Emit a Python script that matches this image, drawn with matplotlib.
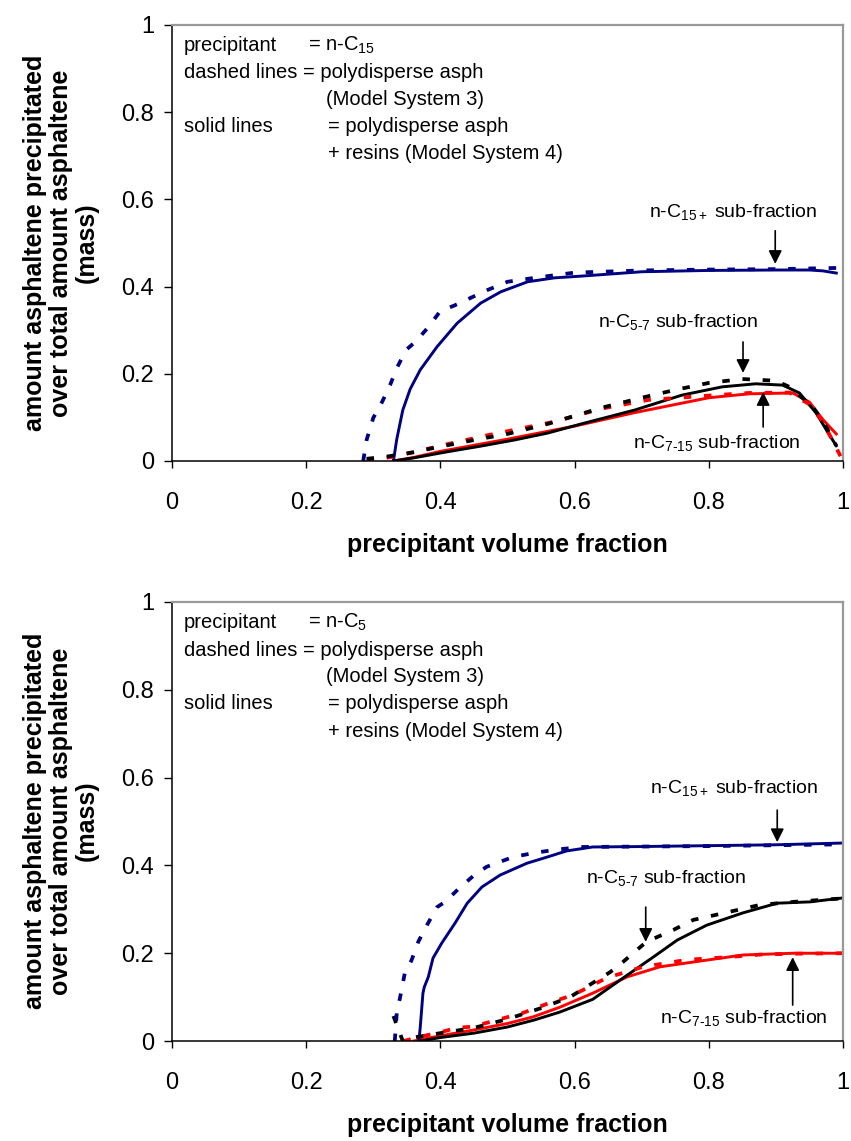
import matplotlib.pyplot as plt

plt.rcParams['font.family'] = ['Liberation Sans', 'DejaVu Sans']
plt.rcParams['mathtext.fontset'] = 'custom'
plt.rcParams['mathtext.rm'] = 'Liberation Sans'
plt.rcParams['mathtext.it'] = 'Liberation Sans:italic'
plt.rcParams['mathtext.bf'] = 'Liberation Sans:bold'

# ---- data: top panel (precipitant n-C15) ----
t_c15_ms3_x = [0.285, 0.29, 0.30, 0.313, 0.325, 0.335, 0.349, 0.364, 0.382, 0.40, 0.42, 0.445, 0.47, 0.50, 0.54, 0.60, 0.70, 0.80, 0.90, 1.0]
t_c15_ms3_y = [0.0, 0.048, 0.099, 0.135, 0.174, 0.213, 0.255, 0.275, 0.307, 0.344, 0.356, 0.374, 0.392, 0.411, 0.420, 0.432, 0.437, 0.439, 0.440, 0.443]
t_c15_ms4_x = [0.330, 0.335, 0.344, 0.355, 0.370, 0.395, 0.425, 0.46, 0.49, 0.53, 0.57, 0.61, 0.70, 0.80, 0.90, 0.95, 0.97, 0.99]
t_c15_ms4_y = [0.0, 0.05, 0.117, 0.165, 0.209, 0.262, 0.316, 0.362, 0.388, 0.411, 0.420, 0.424, 0.434, 0.437, 0.438, 0.438, 0.436, 0.431]
t_c57_ms3_x = [0.29, 0.32, 0.36, 0.40, 0.45, 0.50, 0.56, 0.64, 0.70, 0.75, 0.80, 0.85, 0.90, 0.92, 0.955, 0.975, 0.99]
t_c57_ms3_y = [0.005, 0.01, 0.02, 0.033, 0.048, 0.062, 0.085, 0.122, 0.145, 0.163, 0.179, 0.188, 0.184, 0.170, 0.124, 0.078, 0.035]
t_c57_ms4_x = [0.33, 0.36, 0.41, 0.46, 0.51, 0.56, 0.61, 0.69, 0.76, 0.82, 0.87, 0.91, 0.935, 0.96, 0.978, 0.99]
t_c57_ms4_y = [0.0, 0.007, 0.021, 0.034, 0.048, 0.064, 0.085, 0.117, 0.151, 0.170, 0.177, 0.174, 0.156, 0.110, 0.064, 0.035]
t_c715_ms3_x = [0.29, 0.33, 0.36, 0.40, 0.47, 0.57, 0.64, 0.71, 0.80, 0.86, 0.92, 0.95, 0.97, 0.99, 1.0]
t_c715_ms3_y = [0.0, 0.01, 0.02, 0.035, 0.059, 0.090, 0.12, 0.140, 0.150, 0.156, 0.157, 0.13, 0.09, 0.03, 0.0]
t_c715_ms4_x = [0.33, 0.36, 0.40, 0.50, 0.56, 0.60, 0.69, 0.80, 0.86, 0.925, 0.95, 0.97, 0.99]
t_c715_ms4_y = [0.0, 0.008, 0.022, 0.050, 0.068, 0.080, 0.111, 0.145, 0.154, 0.156, 0.135, 0.095, 0.062]

# ---- data: bottom panel (precipitant n-C5) ----
b_c15_ms3_x = [0.332, 0.333, 0.335, 0.340, 0.347, 0.357, 0.367, 0.380, 0.395, 0.407, 0.428, 0.449, 0.469, 0.508, 0.538, 0.568, 0.608, 0.70, 0.80, 0.90, 1.0]
b_c15_ms3_y = [0.0, 0.02, 0.064, 0.100, 0.155, 0.184, 0.226, 0.264, 0.305, 0.317, 0.348, 0.376, 0.397, 0.419, 0.428, 0.435, 0.442, 0.443, 0.444, 0.446, 0.448]
b_c15_ms4_x = [0.368, 0.370, 0.374, 0.376, 0.382, 0.389, 0.402, 0.422, 0.440, 0.462, 0.489, 0.529, 0.559, 0.588, 0.627, 0.70, 0.80, 0.90, 1.0]
b_c15_ms4_y = [0.0, 0.032, 0.109, 0.123, 0.146, 0.189, 0.223, 0.269, 0.314, 0.351, 0.378, 0.405, 0.419, 0.433, 0.442, 0.443, 0.445, 0.447, 0.451]
b_c57_ms3_x = [0.330, 0.344, 0.36, 0.40, 0.45, 0.50, 0.55, 0.593, 0.653, 0.672, 0.707, 0.747, 0.777, 0.821, 0.876, 0.926, 1.0]
b_c57_ms3_y = [0.057, 0.0, 0.008, 0.018, 0.030, 0.050, 0.075, 0.100, 0.157, 0.180, 0.226, 0.253, 0.276, 0.291, 0.310, 0.317, 0.325]
b_c57_ms4_x = [0.37, 0.40, 0.45, 0.50, 0.54, 0.578, 0.627, 0.668, 0.717, 0.753, 0.797, 0.851, 0.902, 0.951, 1.0]
b_c57_ms4_y = [0.0, 0.008, 0.018, 0.032, 0.048, 0.066, 0.095, 0.139, 0.191, 0.230, 0.264, 0.292, 0.314, 0.317, 0.326]
b_c715_ms3_x = [0.345, 0.37, 0.40, 0.424, 0.449, 0.494, 0.523, 0.568, 0.598, 0.648, 0.702, 0.767, 0.827, 0.877, 0.93, 1.0]
b_c715_ms3_y = [0.0, 0.01, 0.02, 0.03, 0.033, 0.052, 0.064, 0.090, 0.105, 0.144, 0.169, 0.185, 0.191, 0.197, 0.199, 0.200]
b_c715_ms4_x = [0.36, 0.40, 0.449, 0.50, 0.538, 0.578, 0.627, 0.678, 0.727, 0.777, 0.851, 0.926, 1.0]
b_c715_ms4_y = [0.0, 0.012, 0.025, 0.040, 0.055, 0.077, 0.109, 0.146, 0.169, 0.180, 0.196, 0.200, 0.200]

ticks = [0, 0.2, 0.4, 0.6, 0.8, 1.0]
tick_labels = ['0', '0.2', '0.4', '0.6', '0.8', '1']

blue = '#000080'
red = '#ff0000'
black = '#000000'
dash = (0, (2, 3.4))


def style_axes(ax):
    ax.set_xlim(0, 1)
    ax.set_ylim(0, 1)
    ax.set_xticks(ticks)
    ax.set_xticklabels(tick_labels)
    ax.set_yticks(ticks)
    ax.set_yticklabels(tick_labels)
    ax.tick_params(axis='y', direction='out', length=6, width=1, pad=7, labelsize=17)
    ax.tick_params(axis='x', direction='out', length=5, width=1, pad=17, labelsize=17)
    ax.spines['left'].set_color('black')
    ax.spines['bottom'].set_color('black')
    ax.spines['left'].set_linewidth(1.1)
    ax.spines['bottom'].set_linewidth(1.1)
    for s in ['top', 'right']:
        ax.spines[s].set_color('#999999')
        ax.spines[s].set_linewidth(1.6)


def info_box(ax, prec):
    fs = 14.5
    ax.text(0.018, 0.954, 'precipitant', fontsize=fs, va='center', transform=ax.transAxes)
    ax.text(0.203, 0.954, '= n-C$_{\\mathrm{' + prec + '}}$', fontsize=fs, va='center', transform=ax.transAxes)
    ax.text(0.018, 0.890, 'dashed lines = polydisperse asph', fontsize=fs, va='center', transform=ax.transAxes)
    ax.text(0.229, 0.830, '(Model System 3)', fontsize=fs, va='center', transform=ax.transAxes)
    ax.text(0.018, 0.768, 'solid lines', fontsize=fs, va='center', transform=ax.transAxes)
    ax.text(0.232, 0.768, '= polydisperse asph', fontsize=fs, va='center', transform=ax.transAxes)
    ax.text(0.232, 0.706, '+ resins (Model System 4)', fontsize=fs, va='center', transform=ax.transAxes)


def label_arrow(ax, text, tx, ty, ax_x, y0, y1):
    ax.text(tx, ty, text, fontsize=14, va='center', ha='left')
    ax.annotate('', xy=(ax_x, y1), xytext=(ax_x, y0),
                arrowprops=dict(arrowstyle='-|>', color='black', lw=1.2,
                                mutation_scale=20, shrinkA=0, shrinkB=0))


fig = plt.figure(figsize=(8.51, 11.41), dpi=100)
ax1 = fig.add_axes([0.2021, 0.5960, 0.7885, 0.3821])
ax2 = fig.add_axes([0.2021, 0.0876, 0.7885, 0.3848])

# top panel
ax1.plot(t_c715_ms4_x, t_c715_ms4_y, color=red, lw=2.1)
ax1.plot(t_c57_ms4_x, t_c57_ms4_y, color=black, lw=2.1)
ax1.plot(t_c15_ms4_x, t_c15_ms4_y, color=blue, lw=2.1)
ax1.plot(t_c715_ms3_x, t_c715_ms3_y, color=red, lw=2.7, linestyle=dash)
ax1.plot(t_c57_ms3_x, t_c57_ms3_y, color=black, lw=2.7, linestyle=dash)
ax1.plot(t_c15_ms3_x, t_c15_ms3_y, color=blue, lw=2.7, linestyle=dash)
style_axes(ax1)
info_box(ax1, '15')
label_arrow(ax1, 'n-C$_{\\mathrm{15+}}$ sub-fraction', 0.711, 0.571, 0.899, 0.528, 0.452)
label_arrow(ax1, 'n-C$_{\\text{5-7}}$ sub-fraction', 0.635, 0.319, 0.851, 0.273, 0.202)
label_arrow(ax1, 'n-C$_{\\text{7-15}}$ sub-fraction', 0.687, 0.041, 0.881, 0.078, 0.158)

# bottom panel
ax2.plot(b_c715_ms4_x, b_c715_ms4_y, color=red, lw=2.1)
ax2.plot(b_c57_ms4_x, b_c57_ms4_y, color=black, lw=2.1)
ax2.plot(b_c15_ms4_x, b_c15_ms4_y, color=blue, lw=2.1)
ax2.plot(b_c715_ms3_x, b_c715_ms3_y, color=red, lw=2.7, linestyle=dash)
ax2.plot(b_c57_ms3_x, b_c57_ms3_y, color=black, lw=2.7, linestyle=dash)
ax2.plot(b_c15_ms3_x, b_c15_ms3_y, color=blue, lw=2.7, linestyle=dash)
style_axes(ax2)
info_box(ax2, '5')
label_arrow(ax2, 'n-C$_{\\mathrm{15+}}$ sub-fraction', 0.712, 0.576, 0.902, 0.526, 0.453)
label_arrow(ax2, 'n-C$_{\\text{5-7}}$ sub-fraction', 0.617, 0.371, 0.706, 0.305, 0.226)
label_arrow(ax2, 'n-C$_{\\text{7-15}}$ sub-fraction', 0.727, 0.052, 0.925, 0.082, 0.191)

# axis titles
ylab = 'amount asphaltene precipitated\nover total amount asphaltene\n(mass)'
for yc, xc in [(243, 545), (821, 1125)]:
    fig.text(61 / 851, 1 - yc / 1141, ylab, rotation=90, ha='center', va='center',
             multialignment='center', fontsize=18, fontweight='bold', linespacing=1.1)
    fig.text(507 / 851, 1 - xc / 1141, 'precipitant volume fraction', ha='center', va='center',
             fontsize=18, fontweight='bold')

fig.savefig('out.png', dpi=100)
